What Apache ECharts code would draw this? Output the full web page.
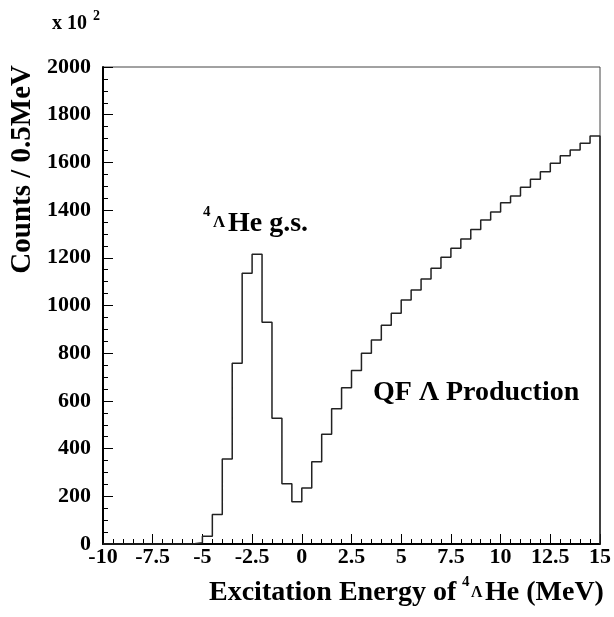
<!DOCTYPE html>
<html>
<head>
<meta charset="utf-8">
<script src="https://cdn.jsdelivr.net/npm/echarts@6/dist/echarts.min.js"></script>
<style>html,body{margin:0;padding:0;background:#fff;}#c{width:614px;height:617px;}</style>
</head>
<body>
<div id="c"></div>
<script>
// Bin edges (MeV), 0.5 MeV bins
var binEdges = [-10,-9.5,-9,-8.5,-8,-7.5,-7,-6.5,-6,-5.5,-5,-4.5,-4,-3.5,-3,-2.5,-2,-1.5,-1,-0.5,0,0.5,1,1.5,2,2.5,3,3.5,4,4.5,5,5.5,6,6.5,7,7.5,8,8.5,9,9.5,10,10.5,11,11.5,12,12.5,13,13.5,14,14.5,15];
// Counts per bin (x 10^2)
var counts = [0,0,0,0,0,0,0,0,0,5,33,124,356,758,1135,1215,930,527,253,177,235,345,460,567,655,727,800,855,917,968,1023,1065,1111,1156,1202,1240,1279,1319,1358,1392,1431,1459,1496,1529,1561,1596,1628,1652,1680,1711];
var yTicks = [0,200,400,600,800,1000,1200,1400,1600,1800,2000];

var FONT = '"Liberation Serif", "Times New Roman", serif';
var data = [];
for (var i = 0; i < counts.length; i++) data.push([binEdges[i], counts[i]]);
data.push([binEdges[binEdges.length - 1], counts[counts.length - 1]]);
data.push([binEdges[binEdges.length - 1], 0]);

function txt(x, y, s, size, opt) {
  opt = opt || {};
  return {
    type: 'text', x: x, y: y, rotation: opt.rot || 0, z: 10,
    style: {
      text: s, fill: '#000',
      font: 'bold ' + size + 'px ' + FONT,
      textAlign: opt.align || 'left',
      textVerticalAlign: 'middle'
    }
  };
}

var chart = echarts.init(document.getElementById('c'), null, {renderer: 'canvas'});
chart.setOption({
  animation: false,
  backgroundColor: '#fff',
  grid: {left: 103, right: 12, top: 67, bottom: 73, show: true, borderColor: '#444', borderWidth: 1},
  xAxis: {
    type: 'value', min: binEdges[0], max: binEdges[binEdges.length - 1], interval: 2.5,
    axisLine: {show: true, onZero: false, lineStyle: {color: '#000', width: 2}},
    axisTick: {show: true, inside: true, length: 10, lineStyle: {color: '#000', width: 1}},
    minorTick: {show: true, splitNumber: 5, length: 5, lineStyle: {color: '#000', width: 1}},
    splitLine: {show: false},
    axisLabel: {color: '#000', fontFamily: FONT, fontWeight: 'bold', fontSize: 22, margin: 2}
  },
  yAxis: {
    type: 'value', min: yTicks[0], max: yTicks[yTicks.length - 1], interval: 200,
    axisLine: {show: true, onZero: false, lineStyle: {color: '#000', width: 2}},
    axisTick: {show: true, inside: true, length: 10, lineStyle: {color: '#000', width: 1}},
    minorTick: {show: true, splitNumber: 4, length: 5, lineStyle: {color: '#000', width: 1}},
    splitLine: {show: false},
    axisLabel: {color: '#000', fontFamily: FONT, fontWeight: 'bold', fontSize: 22, margin: 12,
      formatter: function (v) { return String(v); }}
  },
  series: [{
    type: 'line', step: 'end', data: data, symbol: 'none',
    lineStyle: {color: '#222', width: 1.5}, clip: false
  }],
  graphic: [
    txt(52, 24, 'x 10', 20),
    txt(93, 16, '2', 14),
    txt(23, 65, 'Counts / 0.5MeV', 29, {rot: Math.PI / 2, align: 'right'}),
    txt(209, 593, 'Excitation Energy of', 28),
    txt(462, 582, '4', 15),
    txt(471, 593, '\u039B', 16),
    txt(485, 593, 'He (MeV)', 28),
    txt(203, 212.5, '4', 15),
    txt(213, 223, '\u039B', 17),
    txt(228, 224, 'He g.s.', 28),
    txt(373, 393, 'QF \u039B Production', 28)
  ]
});
</script>
</body>
</html>
